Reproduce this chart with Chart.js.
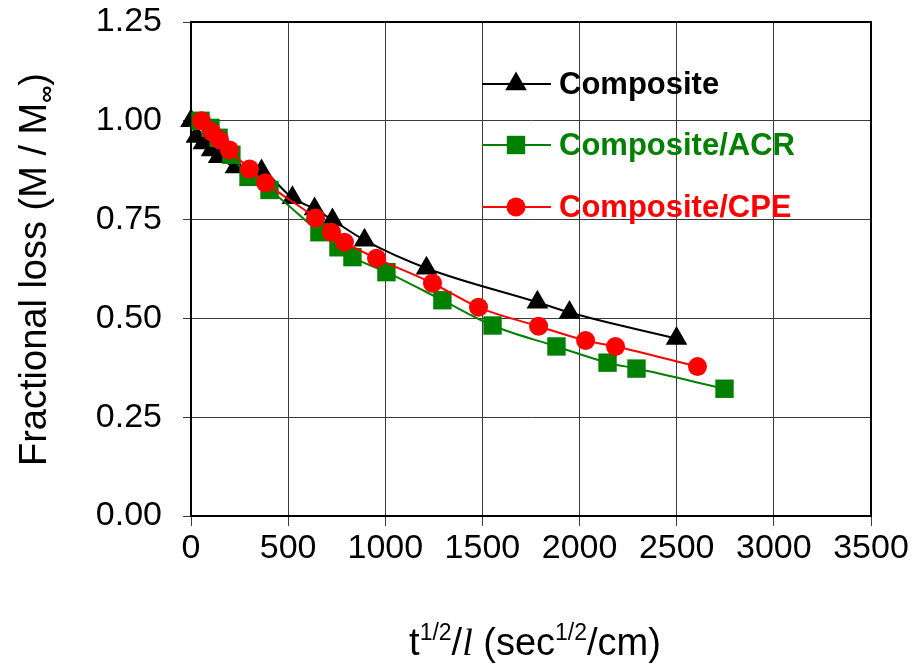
<!DOCTYPE html>
<html>
<head>
<meta charset="utf-8">
<script src="https://cdn.jsdelivr.net/npm/chart.js@4.4.1/dist/chart.umd.min.js"></script>
<style>
  html, body { margin: 0; padding: 0; background: #fff; }
</style>
</head>
<body>
<canvas id="chart" width="923" height="665"></canvas>
<script>
// --- data ---
const seriesNames = ["Composite", "Composite/ACR", "Composite/CPE"];
const seriesColors = ["#000000", "#008000", "#ff0000"];
const seriesMarkers = ["triangle", "rect", "circle"];

const compositeX = [0, 28, 64, 106, 142, 229, 363, 522, 636, 728, 893, 1212, 1783, 1948, 2499];
const compositeY = [1.00, 0.96, 0.944, 0.926, 0.909, 0.883, 0.873, 0.805, 0.777, 0.749, 0.698, 0.627, 0.541, 0.515, 0.449];

const acrX = [49, 100, 142, 208, 296, 404, 661, 759, 831, 1006, 1294, 1552, 1881, 2144, 2293, 2746];
const acrY = [1.00, 0.982, 0.957, 0.914, 0.858, 0.825, 0.718, 0.680, 0.655, 0.617, 0.546, 0.482, 0.429, 0.388, 0.373, 0.322];

const cpeX = [54, 106, 147, 198, 301, 383, 641, 723, 790, 955, 1243, 1480, 1789, 2031, 2185, 2607];
const cpeY = [1.00, 0.972, 0.952, 0.926, 0.878, 0.843, 0.754, 0.718, 0.693, 0.652, 0.589, 0.528, 0.480, 0.444, 0.429, 0.378];

const xTicks = [0, 500, 1000, 1500, 2000, 2500, 3000, 3500];
const yTicks = [0, 0.25, 0.5, 0.75, 1.0, 1.25];

const FONT = "'Liberation Sans', Arial, sans-serif";
const markerSize = { triangle: 12.5, rect: 13, circle: 9.5 };

function toPoints(xs, ys) {
  return xs.map((x, i) => ({ x: x, y: ys[i] }));
}

const seriesData = [toPoints(compositeX, compositeY), toPoints(acrX, acrY), toPoints(cpeX, cpeY)];

// draw one marker by hand (used for the legend)
function drawMarker(ctx, style, x, y, color) {
  const r = markerSize[style];
  ctx.fillStyle = color;
  ctx.beginPath();
  if (style === "triangle") {
    for (let k = 0; k < 3; k++) {
      const a = k * 2 * Math.PI / 3;
      const px = x + Math.sin(a) * r, py = y - Math.cos(a) * r;
      if (k === 0) ctx.moveTo(px, py); else ctx.lineTo(px, py);
    }
    ctx.closePath();
  } else if (style === "rect") {
    const s = r * Math.SQRT1_2;
    ctx.rect(x - s, y - s, 2 * s, 2 * s);
  } else {
    ctx.arc(x, y, r, 0, Math.PI * 2);
  }
  ctx.fill();
}

// titles with super/subscripts, frame box and legend
const decorations = {
  id: "decorations",
  beforeDatasetsDraw(chart) {
    const { ctx, chartArea: a } = chart;
    ctx.save();
    ctx.strokeStyle = "#000";
    ctx.lineWidth = 2;
    ctx.strokeRect(a.left, a.top, a.right - a.left, a.bottom - a.top);
    ctx.restore();
  },
  afterDraw(chart) {
    const ctx = chart.ctx;
    ctx.save();
    ctx.fillStyle = "#000";
    ctx.textBaseline = "alphabetic";

    // x title: t^{1/2}/l (sec^{1/2}/cm)
    const xParts = [
      { t: "t", f: "38px " + FONT, dy: 0 },
      { t: "1/2", f: "23px " + FONT, dy: -15 },
      { t: "/", f: "38px " + FONT, dy: 0 },
      { t: "l", f: "italic 38px 'Liberation Serif', serif", dy: 0 },
      { t: " (sec", f: "38px " + FONT, dy: 0 },
      { t: "1/2", f: "23px " + FONT, dy: -15 },
      { t: "/cm)", f: "38px " + FONT, dy: 0 }
    ];
    let total = 0;
    xParts.forEach(p => { ctx.font = p.f; p.w = ctx.measureText(p.t).width; total += p.w; });
    let cx = 535 - total / 2;
    xParts.forEach(p => { ctx.font = p.f; ctx.fillText(p.t, cx, 655 + p.dy); cx += p.w; });

    // y title, rotated
    ctx.translate(46, 466);
    ctx.rotate(-Math.PI / 2);
    const yParts = [
      { t: "Fractional loss (M / M", f: "38px " + FONT, dy: 0 },
      { t: "\u221E", f: "bold 24px " + FONT, dy: 8 },
      { t: ")", f: "38px " + FONT, dy: 0 }
    ];
    let cy = 0;
    yParts.forEach(p => { ctx.font = p.f; ctx.fillText(p.t, cy, p.dy); cy += ctx.measureText(p.t).width; });
    ctx.setTransform(1, 0, 0, 1, 0, 0);

    // legend: line + marker + coloured bold label
    const rows = [84, 145, 207];
    seriesNames.forEach((name, i) => {
      const y = rows[i];
      ctx.strokeStyle = seriesColors[i];
      ctx.lineWidth = 2;
      ctx.beginPath();
      ctx.moveTo(482, y);
      ctx.lineTo(551, y);
      ctx.stroke();
      drawMarker(ctx, seriesMarkers[i], 516, y, seriesColors[i]);
      ctx.fillStyle = seriesColors[i];
      ctx.font = "bold 31px " + FONT;
      ctx.textBaseline = "middle";
      ctx.fillText(name, 559, y + 1);
    });
    ctx.restore();
  }
};

const ctx = document.getElementById("chart").getContext("2d");
new Chart(ctx, {
  type: "scatter",
  data: {
    datasets: seriesNames.map((name, i) => ({
      label: name,
      data: seriesData[i],
      showLine: true,
      borderColor: seriesColors[i],
      backgroundColor: seriesColors[i],
      borderWidth: 2,
      pointStyle: seriesMarkers[i],
      pointRadius: markerSize[seriesMarkers[i]],
      pointBorderWidth: 0,
      cubicInterpolationMode: "monotone",
      clip: false,
      order: 3 - i
    }))
  },
  options: {
    responsive: false,
    animation: false,
    layout: { padding: { top: 22, right: 52, left: 0, bottom: 0 } },
    plugins: { legend: { display: false }, tooltip: { enabled: false } },
    scales: {
      x: {
        type: "linear",
        min: 0,
        max: 3500,
        afterFit(scale) {
          scale.height = 665 - 516;
          scale.paddingLeft = 0;
          scale.paddingRight = 0;
        },
        afterBuildTicks(scale) { scale.ticks = xTicks.map(v => ({ value: v })); },
        ticks: { color: "#000", font: { family: FONT, size: 34 }, padding: 2, maxRotation: 0, autoSkip: false, callback: v => String(v) },
        grid: { color: "#3a3a3a", lineWidth: 1, tickLength: 10 },
        border: { color: "#000", width: 2 }
      },
      y: {
        type: "linear",
        min: 0,
        max: 1.25,
        afterFit(scale) {
          scale.width = 191;
          scale.paddingTop = 0;
          scale.paddingBottom = 0;
        },
        afterBuildTicks(scale) { scale.ticks = yTicks.map(v => ({ value: v })); },
        ticks: { color: "#000", font: { family: FONT, size: 34 }, padding: 21, callback: v => v.toFixed(2) },
        grid: { color: "#3a3a3a", lineWidth: 1, tickLength: 8 },
        border: { color: "#000", width: 2 }
      }
    }
  },
  plugins: [decorations]
});
</script>
</body>
</html>
